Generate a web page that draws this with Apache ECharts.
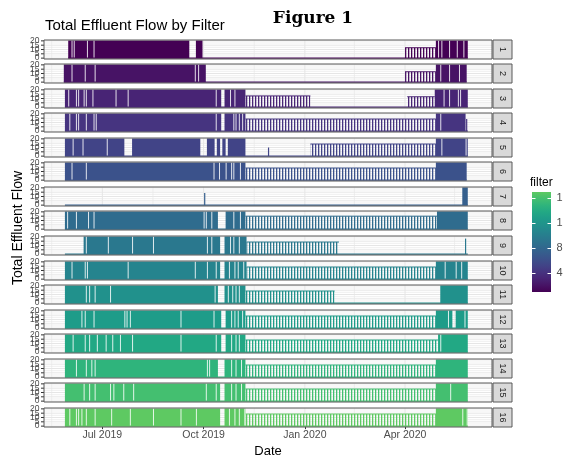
<!DOCTYPE html>
<html>
<head>
<meta charset="utf-8">
<script src="https://cdn.jsdelivr.net/npm/echarts@6/dist/echarts.min.js"></script>
<style>
  html, body { margin: 0; padding: 0; background: #fff; }
  #main { width: 563px; height: 457px; }
</style>
</head>
<body>
<div id="main"></div>
<script>
// facets
const filterIds = [1, 2, 3, 4, 5, 6, 7, 8, 9, 10, 11, 12, 13, 14, 15, 16];
const panelColors = ['#440154', '#471365', '#482475', '#463480', '#414487', '#3b528b', '#355f8d', '#2f6c8e',
  '#2a788e', '#25848e', '#21918c', '#1e9c89', '#22a884', '#2fb47c', '#44bf70', '#5ec962'];

// first / last day with a reading (flow 0 shows as a line at the bottom)
const dataStart = ['2019-05-31', '2019-05-27', '2019-05-28', '2019-05-28', '2019-05-28', '2019-05-28', '2019-05-28', '2019-05-28',
  '2019-05-28', '2019-05-28', '2019-05-28', '2019-05-28', '2019-05-28', '2019-05-28', '2019-05-28', '2019-05-28'];
const dataEnd = ['2020-05-28', '2020-05-27', '2020-05-28', '2020-05-28', '2020-05-28', '2020-05-27', '2020-05-28', '2020-05-28',
  '2020-05-28', '2020-05-28', '2020-05-28', '2020-05-28', '2020-05-28', '2020-05-28', '2020-05-28', '2020-05-28'];

// continuous running (flow ~20)
const solidRuns = [
  [['2019-05-31', '2019-09-18'], ['2019-09-24', '2019-09-30'], ['2020-04-29', '2020-05-28']],
  [['2019-05-27', '2019-10-03'], ['2020-04-29', '2020-05-27']],
  [['2019-05-28', '2019-10-17'], ['2019-10-20', '2019-11-08'], ['2020-04-28', '2020-05-28']],
  [['2019-05-28', '2019-10-17'], ['2019-10-20', '2019-11-08'], ['2020-04-29', '2020-05-26']],
  [['2019-05-28', '2019-07-21'], ['2019-07-28', '2019-09-28'], ['2019-10-04', '2019-10-11'], ['2019-10-13', '2019-10-16'],
   ['2019-10-18', '2019-10-21'], ['2019-10-23', '2019-11-08'], ['2020-04-29', '2020-05-28']],
  [['2019-05-28', '2019-11-08'], ['2020-04-29', '2020-05-27']],
  [['2020-05-23', '2020-05-28']],
  [['2019-05-28', '2019-10-14'], ['2019-10-21', '2019-11-08'], ['2020-04-30', '2020-05-28']],
  [['2019-06-14', '2019-10-16'], ['2019-10-20', '2019-11-09']],
  [['2019-05-28', '2019-10-16'], ['2019-10-20', '2019-11-09'], ['2020-04-29', '2020-05-28']],
  [['2019-05-28', '2019-10-14'], ['2019-10-20', '2019-11-08'], ['2020-05-03', '2020-05-28']],
  [['2019-05-28', '2019-10-17'], ['2019-10-21', '2019-11-08'], ['2020-04-29', '2020-05-14'], ['2020-05-17', '2020-05-28']],
  [['2019-05-28', '2019-10-17'], ['2019-10-21', '2019-11-08'], ['2020-05-01', '2020-05-28']],
  [['2019-05-28', '2019-10-14'], ['2019-10-20', '2019-11-08'], ['2020-04-29', '2020-05-28']],
  [['2019-05-28', '2019-10-16'], ['2019-10-20', '2019-11-08'], ['2020-04-29', '2020-05-28']],
  [['2019-05-28', '2019-10-16'], ['2019-10-20', '2019-11-08'], ['2020-04-29', '2020-05-28']]
];

// on/off cycling periods: [from, to, flow when on]
const combRuns = [
  [['2020-04-01', '2020-04-29', 12]],
  [['2020-04-01', '2020-04-29', 12]],
  [['2019-11-08', '2020-01-06', 13], ['2020-04-03', '2020-04-28', 12]],
  [['2019-11-08', '2020-04-29', 14]],
  [['2020-01-06', '2020-04-29', 14]],
  [['2019-11-08', '2020-04-29', 14]],
  [],
  [['2019-11-08', '2020-04-30', 15]],
  [['2019-11-09', '2020-02-01', 14]],
  [['2019-11-09', '2020-04-29', 14]],
  [['2019-11-08', '2020-01-28', 14]],
  [['2019-11-08', '2020-04-29', 14]],
  [['2019-11-08', '2020-05-01', 14]],
  [['2019-11-08', '2020-04-29', 14]],
  [['2019-11-08', '2020-04-29', 14]],
  [['2019-11-08', '2020-04-29', 14]]
];

// single days with no flow inside running periods
const gapDays = [
  ['2019-06-03', '2019-06-05', '2019-06-17', '2019-06-23', '2020-05-01', '2020-05-04', '2020-05-11', '2020-05-18', '2020-05-24'],
  ['2019-06-03', '2019-06-15', '2019-06-24', '2019-09-23', '2019-09-26', '2020-05-03', '2020-05-11', '2020-05-20'],
  ['2019-05-31', '2019-06-07', '2019-06-09', '2019-06-14', '2019-06-16', '2019-06-22', '2019-07-13', '2019-07-24',
   '2019-10-12', '2019-10-25', '2019-10-29', '2020-05-06', '2020-05-11', '2020-05-19', '2020-05-21'],
  ['2019-06-01', '2019-06-07', '2019-06-09', '2019-06-16', '2019-06-23', '2019-06-25', '2019-10-12', '2019-10-28',
   '2019-10-30', '2019-11-02', '2019-11-05', '2020-05-03'],
  ['2019-06-04', '2019-06-13', '2019-07-05', '2020-05-04', '2020-05-26'],
  ['2019-06-03', '2019-06-16', '2019-10-10', '2019-10-15', '2019-10-21', '2019-10-26', '2019-10-28', '2019-11-03'],
  [],
  ['2019-05-30', '2019-06-07', '2019-06-18', '2019-06-23', '2019-10-01', '2019-10-03', '2019-10-08', '2019-10-28', '2019-11-03'],
  ['2019-06-16', '2019-07-06', '2019-07-28', '2019-08-16', '2019-10-04', '2019-10-08', '2019-10-25', '2019-10-28', '2019-11-02'],
  ['2019-06-03', '2019-06-15', '2019-06-17', '2019-07-24', '2019-09-23', '2019-10-04', '2019-10-12', '2019-10-24',
   '2019-10-29', '2019-11-01', '2019-11-06', '2020-05-07', '2020-05-17', '2020-05-22'],
  ['2019-06-16', '2019-06-19', '2019-06-24', '2019-07-08', '2019-10-11', '2019-10-23', '2019-10-27', '2019-10-30', '2019-11-02'],
  ['2019-06-12', '2019-06-15', '2019-06-23', '2019-07-21', '2019-07-23', '2019-07-26', '2019-09-10', '2019-10-10',
   '2019-10-26', '2019-10-29', '2019-11-01', '2019-11-05', '2020-05-10', '2020-05-25'],
  ['2019-06-04', '2019-06-15', '2019-06-19', '2019-06-26', '2019-07-04', '2019-07-10', '2019-07-17', '2019-07-28',
   '2019-09-10', '2019-10-12', '2019-10-26', '2019-10-30', '2019-11-02', '2020-05-03'],
  ['2019-06-07', '2019-06-16', '2019-06-21', '2019-06-24', '2019-10-04', '2019-10-06', '2019-10-26', '2019-10-30', '2019-11-04'],
  ['2019-06-14', '2019-06-19', '2019-06-24', '2019-07-08', '2019-07-11', '2019-07-20', '2019-07-29', '2019-10-03',
   '2019-10-12', '2019-10-26', '2019-10-30', '2019-11-04', '2020-05-12'],
  ['2019-06-01', '2019-06-07', '2019-06-09', '2019-06-12', '2019-06-16', '2019-06-24', '2019-07-09', '2019-07-26',
   '2019-08-16', '2019-09-10', '2019-09-24', '2019-10-24', '2019-10-29', '2019-11-02', '2019-11-07', '2020-05-23', '2020-05-27']
];

// isolated short readings: [day, flow]
const spikes = [
  [], [], [], [['2020-05-27', 14]], [['2019-11-29', 10]], [], [['2019-10-02', 14]], [],
  [['2020-05-26', 18]], [], [], [], [], [], [], []
];

const SOLID_TOP = 20.5;
const tickDates = ['2019-07-01', '2019-10-01', '2020-01-01', '2020-04-01'];
const tickLabels = ['Jul 2019', 'Oct 2019', 'Jan 2020', 'Apr 2020'];
const minorDates = ['2019-05-16', '2019-08-16', '2019-11-16', '2020-02-15', '2020-05-16'];
const yTicks = [0, 5, 10, 15, 20];
const yMinor = [2.5, 7.5, 12.5, 17.5];
const legendTicks = [4, 8, 12, 16];

const DAY = 86400000;
const ms = s => Date.parse(s);
const xMin = ms('2019-05-09');
const xMax = ms('2020-06-19');
const tickMs = tickDates.map(ms);

const panelTop = i => Math.round(39.5 + i * 24.57);
const PANEL_H = 19;

function combPattern(color) {
  const c = document.createElement('canvas');
  c.width = 3; c.height = 4;
  const g = c.getContext('2d');
  g.fillStyle = color;
  g.fillRect(0, 0, 1, 4);
  g.globalAlpha = 0.3;
  g.fillRect(1, 0, 1, 4);
  return c;
}

function panelItems(i) {
  const items = [[ms(dataStart[i]), ms(dataEnd[i]), 0, 4]];
  solidRuns[i].forEach(r => items.push([ms(r[0]), ms(r[1]), SOLID_TOP, 0]));
  combRuns[i].forEach(r => items.push([ms(r[0]), ms(r[1]), r[2], 1]));
  gapDays[i].forEach(d => items.push([ms(d), ms(d) + DAY * 0.8, SOLID_TOP, 2]));
  spikes[i].forEach(s => items.push([ms(s[0]), ms(s[0]), s[1], 3]));
  return items;
}

function makeRender(color) {
  const pat = combPattern(color);
  return function (params, api) {
    const kind = api.value(3);
    const a = api.coord([api.value(0), kind === 2 ? 0.8 : 0]);
    const b = api.coord([api.value(1), api.value(2)]);
    if (kind === 4) {
      return {type: 'line', shape: {x1: a[0], y1: a[1], x2: b[0], y2: a[1]}, style: {stroke: color, lineWidth: 1.2}};
    }
    if (kind === 3) {
      return {type: 'line', shape: {x1: a[0], y1: a[1], x2: a[0], y2: b[1]}, style: {stroke: color, lineWidth: 1.2}};
    }
    const rect = {x: a[0], y: b[1], width: Math.max(b[0] - a[0], 1), height: a[1] - b[1]};
    if (kind === 0) return {type: 'rect', shape: rect, style: {fill: color}};
    if (kind === 2) return {type: 'rect', shape: rect, style: {fill: 'rgba(255,255,255,0.85)'}};
    return {
      type: 'group',
      children: [
        {type: 'rect', shape: rect, style: {fill: {image: pat, repeat: 'repeat'}}},
        {type: 'line', shape: {x1: a[0], y1: b[1], x2: b[0], y2: b[1]}, style: {stroke: color, lineWidth: 1}}
      ]
    };
  };
}

// background grid lines: [value, 0 = vertical / 1 = horizontal, major?]
const gridItems = [];
tickDates.forEach(d => gridItems.push([ms(d), 0, 1]));
minorDates.forEach(d => gridItems.push([ms(d), 0, 0]));
yTicks.forEach(v => gridItems.push([v, 1, 1]));
yMinor.forEach(v => gridItems.push([v, 1, 0]));

function renderGrid(params, api) {
  const v = api.value(0), horiz = api.value(1), major = api.value(2);
  const a = horiz ? api.coord([xMin, v]) : api.coord([v, -1]);
  const b = horiz ? api.coord([xMax, v]) : api.coord([v, 21]);
  return {
    type: 'line',
    shape: {x1: a[0], y1: a[1], x2: b[0], y2: b[1]},
    style: {stroke: '#e6e6e6', lineWidth: major ? 1 : 0.6}
  };
}

// y ticks and labels; echarts drops overlapping ones, the original keeps them all
function renderYLabels(params, api) {
  const v = api.value(0);
  const p = api.coord([xMin, v]);
  return {
    type: 'group',
    children: [
      {type: 'line', shape: {x1: p[0] - 3, y1: p[1], x2: p[0], y2: p[1]}, style: {stroke: '#333', lineWidth: 1}},
      {type: 'text', x: p[0] - 4.5, y: p[1],
        style: {text: String(v), fill: '#4d4d4d', font: '8.5px "Liberation Sans"', align: 'right', verticalAlign: 'middle'}}
    ]
  };
}

const grids = [], xAxes = [], yAxes = [], series = [], graphics = [];
filterIds.forEach((f, i) => {
  const last = i === filterIds.length - 1;
  grids.push({left: 44, right: 71, top: panelTop(i), height: PANEL_H, show: true, z: 10,
    backgroundColor: 'transparent', borderColor: '#595959', borderWidth: 1});
  xAxes.push({
    type: 'value', gridIndex: i, min: xMin, max: xMax,
    axisLine: {show: false}, splitLine: {show: false},
    axisTick: {show: last, length: 3, customValues: tickMs, lineStyle: {color: '#333'}},
    axisLabel: {
      show: last, customValues: tickMs, margin: 3, fontSize: 10.5, color: '#4d4d4d',
      formatter: v => { const k = tickMs.indexOf(v); return k < 0 ? '' : tickLabels[k]; }
    }
  });
  yAxes.push({
    type: 'value', gridIndex: i, min: -1, max: 21,
    axisLine: {show: false}, splitLine: {show: false},
    axisTick: {show: false}, axisLabel: {show: false}
  });
  series.push({
    type: 'custom', xAxisIndex: i, yAxisIndex: i, z: 1, silent: true,
    renderItem: renderGrid, data: gridItems
  });
  series.push({
    type: 'custom', name: 'filter ' + f, xAxisIndex: i, yAxisIndex: i, z: 2, silent: true,
    encode: {x: [0, 1], y: 2},
    renderItem: makeRender(panelColors[i]), data: panelItems(i)
  });
  series.push({
    type: 'custom', xAxisIndex: i, yAxisIndex: i, z: 3, silent: true, clip: false,
    renderItem: renderYLabels, data: yTicks.map(v => [v])
  });
  // facet strip on the right
  graphics.push({type: 'rect', shape: {x: 493, y: panelTop(i), width: 19, height: PANEL_H},
    style: {fill: '#d9d9d9', stroke: '#595959', lineWidth: 1}});
  graphics.push({type: 'text', x: 502.5, y: panelTop(i) + PANEL_H / 2, rotation: -Math.PI / 2,
    style: {text: String(f), fill: '#1a1a1a', font: '9px "Liberation Sans"', align: 'center', verticalAlign: 'middle'}});
});

// titles
graphics.push({type: 'text', x: 45, y: 26,
  style: {text: 'Total Effluent Flow by Filter', fill: '#000', font: '15px "Liberation Sans"', verticalAlign: 'middle'}});
graphics.push({type: 'text', x: 313, y: 19,
  style: {text: 'Figure 1', fill: '#000', font: 'bold 17px "DejaVu Serif"', align: 'center', verticalAlign: 'middle'}});
graphics.push({type: 'text', x: 18, y: 228, rotation: Math.PI / 2,
  style: {text: 'Total Effluent Flow', fill: '#000', font: '14px "Liberation Sans"', align: 'center', verticalAlign: 'middle'}});
graphics.push({type: 'text', x: 268, y: 451,
  style: {text: 'Date', fill: '#000', font: '13px "Liberation Sans"', align: 'center', verticalAlign: 'middle'}});

// colour bar legend
const barTop = 192, barH = 100, valY = v => 291.2 - (v - 1) * 6.22;
graphics.push({type: 'text', x: 530, y: 183,
  style: {text: 'filter', fill: '#000', font: '12px "Liberation Sans"', verticalAlign: 'middle'}});
graphics.push({type: 'rect', shape: {x: 532, y: barTop, width: 19, height: barH},
  style: {fill: new echarts.graphic.LinearGradient(0, 1, 0, 0,
    panelColors.map((c, k) => ({offset: k / (panelColors.length - 1), color: c})))}});
legendTicks.forEach(v => {
  const y = Math.round(valY(v)) + 0.5;
  graphics.push({type: 'line', shape: {x1: 532, y1: y, x2: 535.5, y2: y}, style: {stroke: '#fff', lineWidth: 1}});
  graphics.push({type: 'line', shape: {x1: 547.5, y1: y, x2: 551, y2: y}, style: {stroke: '#fff', lineWidth: 1}});
  graphics.push({type: 'text', x: 556.5, y: valY(v),
    style: {text: String(v), fill: '#4d4d4d', font: '11px "Liberation Sans"', verticalAlign: 'middle'}});
});

const chart = echarts.init(document.getElementById('main'), null, {renderer: 'canvas'});
chart.setOption({
  animation: false,
  backgroundColor: '#fff',
  textStyle: {fontFamily: 'Liberation Sans'},
  grid: grids,
  xAxis: xAxes,
  yAxis: yAxes,
  series: series,
  graphic: graphics
});
</script>
</body>
</html>
